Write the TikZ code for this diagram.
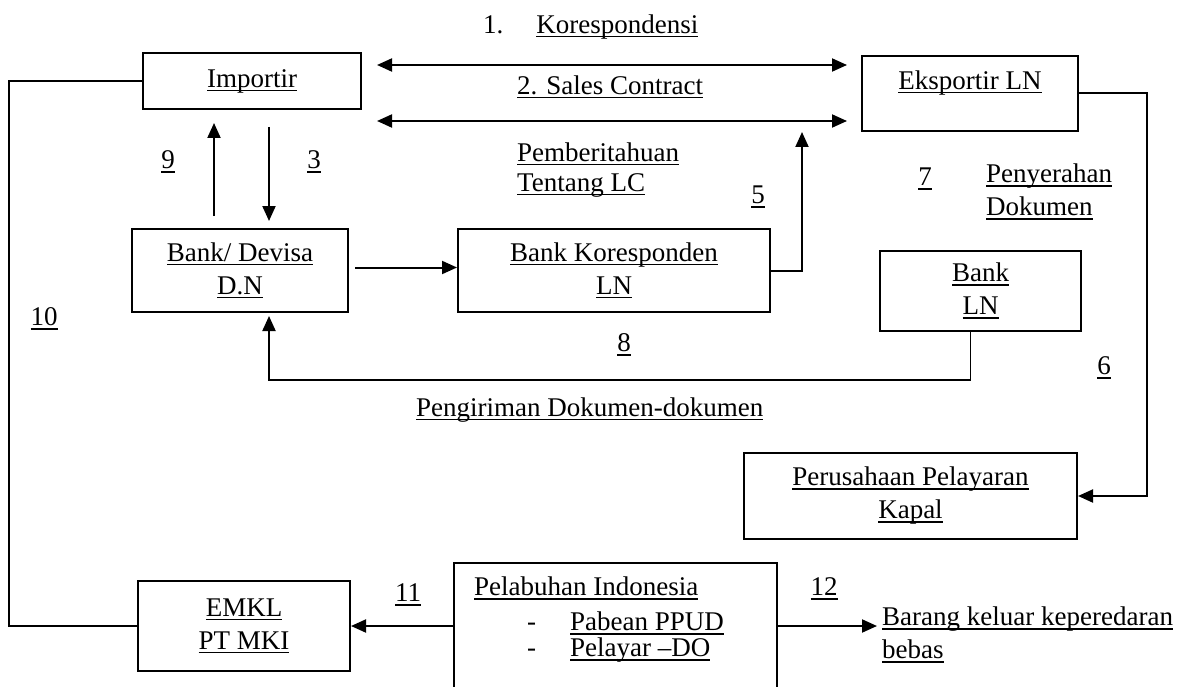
\documentclass[tikz,border=0pt]{standalone}
\usepackage{fontspec}
\setmainfont{Liberation Serif}
\usetikzlibrary{positioning,calc,arrows.meta}
\newsavebox\ulbox
\newcommand{\ulbl}[1]{\sbox\ulbox{#1}\rlap{\rule[-4pt]{\wd\ulbox}{1.5pt}}\usebox\ulbox}
\tikzset{
    blok/.style={
        draw,
        line width=2pt,
        inner sep=0pt,
        align=center
    },
    teks/.style={inner sep=0pt},
    ptr/.style={
        -{Triangle[length=15pt,width=13pt]},
        line width=2pt
    },
    dptr/.style={
        {Triangle[length=15pt,width=13pt]}-{Triangle[length=15pt,width=13pt]},
        line width=2pt
    },
    garis/.style={line width=2pt}
}

\begin{document}
\begin{tikzpicture}[x=1pt, y=-1pt, font=\fontsize{27}{33}\selectfont]
\useasboundingbox (0,0) rectangle (1190,687);
\clip (0,0) rectangle (1190,687);

% kotak
\node[blok, minimum width=218pt, minimum height=56pt] (imp) at (252,81) {\ulbl{Importir}};
\node[blok, minimum width=216pt, minimum height=75pt, text depth=27pt] (eks) at (970,93.5) {\ulbl{Eksportir LN}};
\node[blok, minimum width=216pt, minimum height=83pt] (bdn) at (240,270.5) {\ulbl{Bank/ Devisa}\\\ulbl{D.N}};
\node[blok, minimum width=312pt, minimum height=83pt] (kor) at (614,270.5) {\ulbl{Bank Koresponden}\\\ulbl{LN}};
\node[blok, minimum width=201pt, minimum height=80pt] (bln) at (980.5,291) {\ulbl{Bank}\\\ulbl{LN}};
\node[blok, minimum width=333pt, minimum height=86pt] (per) at (910.5,496) {\ulbl{Perusahaan Pelayaran}\\\ulbl{Kapal}};
\node[blok, minimum width=212pt, minimum height=90pt] (emkl) at (244,626) {\ulbl{EMKL}\\\ulbl{PT MKI}};
\node[blok, minimum width=323pt, minimum height=126pt] (pel) at (615.5,626) {};
\node[teks, align=left, below right=15pt and 21pt of pel.north west] (pelisi) {\ulbl{Pelabuhan Indonesia}\\[2pt]
    \hspace*{53pt}-\hspace*{34pt}\ulbl{Pabean PPUD}\\[-7pt]
    \hspace*{53pt}-\hspace*{34pt}\ulbl{Pelayar –DO}};

% keterangan
\node[teks, anchor=west] (kor1) at (483,27) {1.\hspace{33pt}\ulbl{Korespondensi}};
\node[teks, anchor=west] (sc2) at (517,87) {\ulbl{2. Sales Contract}};
\node[teks, anchor=west, align=left] (lc) at (517,170) {\ulbl{Pemberitahuan}\\[-3pt]\ulbl{Tentang LC}};
\node[teks, anchor=west, align=left] (serah) at (986,192) {\ulbl{Penyerahan}\\\ulbl{Dokumen}};
\node[teks, anchor=west] (kirim) at (416,410) {\ulbl{Pengiriman Dokumen-dokumen}};
\node[teks, anchor=west, align=left] (brg) at (882,635) {\ulbl{Barang keluar keperedaran}\\\ulbl{bebas}};

\node[teks] (n3) at (314,162) {\ulbl{3}};
\node[teks] (n5) at (758,197) {\ulbl{5}};
\node[teks] (n6) at (1104,368) {\ulbl{6}};
\node[teks] (n7) at (925,179) {\ulbl{7}};
\node[teks] (n8) at (624,345) {\ulbl{8}};
\node[teks] (n9) at (168,162) {\ulbl{9}};
\node[teks] (n10) at (44,319) {\ulbl{10}};
\node[teks] (n11) at (408,595) {\ulbl{11}};
\node[teks] (n12) at (824,589) {\ulbl{12}};

% panah
\draw[dptr, shorten <=15pt, shorten >=14pt] ($(imp.east)+(0,-16)$) -- ($(eks.west)+(0,-28.5)$);
\draw[dptr, shorten <=15pt, shorten >=14pt] ($(imp.east)+(0,40)$) -- ($(eks.west)+(0,27.5)$);
\draw[ptr, shorten <=12pt, shorten >=13pt] ($(bdn.north)+(-26,0)$) -- ($(imp.south)+(-38,0)$);
\draw[ptr, shorten <=17pt, shorten >=7pt] ($(imp.south)+(17,0)$) -- ($(bdn.north)+(29,0)$);
\draw[ptr, shorten <=6pt] ($(bdn.east)+(0,-3)$) -- ($(kor.west)+(0,-3)$);
\draw[ptr] (kor.east) -| ($(eks.south west)+(-59,0)$);
\draw[ptr] (eks.east) -- ++(68,0) |- (per.east);
\draw[line width=1.2pt] ($(bln.south)+(-10,0)$) -- ++(0,48) coordinate (b8);
\draw[ptr, shorten >=3pt] (b8) -| ($(bdn.south)+(29,0)$);
\draw[garis] (imp.west) -- ++(-133,0) |- (emkl.west);
\draw[ptr] (pel.west) -- (emkl.east);
\draw[ptr, shorten >=5pt] (pel.east) -- (pel.east -| brg.west);
\end{tikzpicture}
\end{document}
